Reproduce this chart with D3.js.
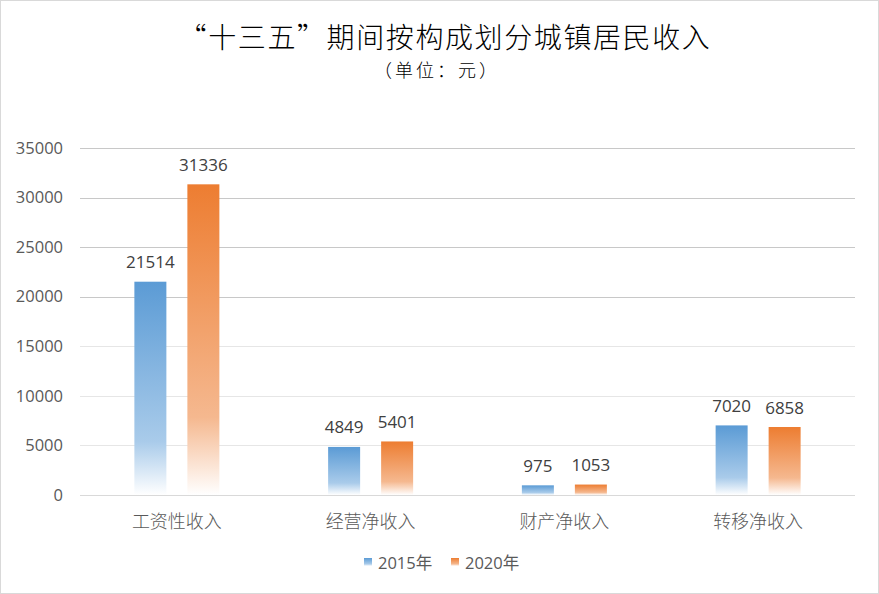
<!DOCTYPE html>
<html><head><meta charset="utf-8">
<script src="https://cdn.jsdelivr.net/npm/d3@7/dist/d3.min.js"></script>
<style>
body{margin:0;background:#fff;}
svg{display:block;}
</style></head>
<body>
<svg id="chart" width="879" height="594"></svg>
<script>
const categories = ["工资性收入","经营净收入","财产净收入","转移净收入"];
const seriesNames = ["2015年","2020年"];
const values2015 = [21514,4849,975,7020];
const values2020 = [31336,5401,1053,6858];
const yTicks = [0,5000,10000,15000,20000,25000,30000,35000];
const colors = ["#5b9bd5","#ed7d31"];
const lightColors = ["#a9cbea","#f5b88f"];

(function(){
const svg = d3.select("#chart");
const W = 879, H = 594;
svg.append("rect").attr("x",0.5).attr("y",0.5).attr("width",W-1).attr("height",H-1)
  .attr("fill","#fff").attr("stroke","#d9d9d9");

const defs = svg.append("defs");
colors.forEach((c,i)=>{
  const g = defs.append("linearGradient").attr("id","g"+i).attr("x1",0).attr("y1",0).attr("x2",0).attr("y2",1);
  g.append("stop").attr("offset","0%").attr("stop-color",c);
  g.append("stop").attr("offset","75%").attr("stop-color",lightColors[i]);
  g.append("stop").attr("offset","100%").attr("stop-color","#ffffff");
});

const cjk = "'Noto Sans CJK SC','Open Sans',sans-serif";
const num = "'Open Sans','Noto Sans CJK SC',sans-serif";
svg.append("text").attr("x",445).attr("y",48).attr("text-anchor","middle")
  .attr("font-family",cjk).attr("font-size",28).attr("font-weight",300)
  .attr("letter-spacing",1.6).attr("fill","#000")
  .text("“十三五”期间按构成划分城镇居民收入");
svg.append("text").attr("x",437).attr("y",77).attr("text-anchor","middle")
  .attr("font-family",cjk).attr("font-size",18).attr("font-weight",300)
  .attr("letter-spacing",3).attr("fill","#000")
  .text("（单位：元）");

const pLeft = 80, pRight = 855, pTop = 148, pBottom = 495;
const y = d3.scaleLinear().domain([0,35000]).range([pBottom, pTop]);
const x0 = d3.scaleBand().domain(categories).range([pLeft,pRight]);
const barW = 32, gap = 21;

const gridColor = v => v===0 ? "#d9d9d9" : (v>=20000 ? "#c8c8c8" : "#e6e6e6");
svg.append("g").selectAll("line").data(yTicks).join("line")
  .attr("x1",pLeft).attr("x2",pRight)
  .attr("y1",d=>Math.round(y(d))+0.5).attr("y2",d=>Math.round(y(d))+0.5)
  .attr("stroke",d=>gridColor(d)).attr("stroke-width",1);

const yAxis = d3.axisLeft(y).tickValues(yTicks).tickFormat(d3.format("d")).tickSize(0).tickPadding(17);
const ya = svg.append("g").attr("transform",`translate(${pLeft},0)`).call(yAxis);
ya.select(".domain").remove();
ya.selectAll("text").attr("font-family",num).attr("font-size",16.5).attr("fill","#595959");

const xAxis = d3.axisBottom(x0).tickSize(0).tickPadding(20);
const xa = svg.append("g").attr("transform",`translate(0,${pBottom})`).call(xAxis);
xa.select(".domain").remove();
xa.selectAll("text").attr("font-family",cjk).attr("font-size",18).attr("font-weight",300).attr("fill","#595959");

const series = [values2015, values2020];
series.forEach((vals,si)=>{
  const g = svg.append("g");
  const cx = (d,i)=> x0(categories[i]) + x0.bandwidth()/2 + (si===0 ? -(gap/2+barW) : gap/2);
  g.selectAll("rect").data(vals).join("rect")
    .attr("x",(d,i)=>cx(d,i)).attr("width",barW)
    .attr("y",d=>y(d)).attr("height",d=>pBottom-y(d))
    .attr("fill",`url(#g${si})`);
  g.selectAll("text").data(vals).join("text")
    .attr("x",(d,i)=>cx(d,i)+barW/2).attr("y",d=>y(d)-13.5)
    .attr("text-anchor","middle").attr("font-family",num)
    .attr("font-size",17).attr("fill","#404040").text(d=>d);
});

const legX = [364, 451];
seriesNames.forEach((n,i)=>{
  svg.append("rect").attr("x",legX[i]).attr("y",558).attr("width",8).attr("height",8).attr("fill",`url(#g${i})`);
  svg.append("text").attr("x",legX[i]+14).attr("y",568.5).attr("font-family",num)
    .attr("font-size",16.5).attr("fill","#595959").text(n);
});
})();
</script>
</body></html>
